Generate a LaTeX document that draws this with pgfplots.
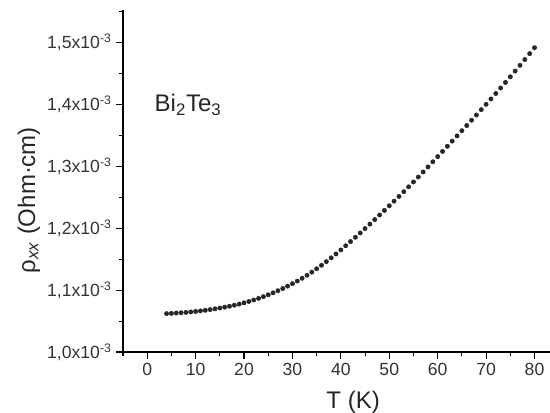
\documentclass[border=0pt]{standalone}
\usepackage{fontspec}
\setmainfont{Liberation Sans}
\usepackage{pgfplots}
\pgfplotsset{compat=1.18}
\begin{document}
\begin{tikzpicture}
\useasboundingbox (-92.25pt,-45.75pt) rectangle (320.25pt,264pt);
\begin{axis}[
  at={(0,0)}, anchor=south west,
  scale only axis,
  width=320.25pt, height=256.5pt,
  xmin=-5, xmax=83.2,
  ymin=1.0, ymax=1.5525,
  axis lines*=left,
  axis line style={line width=0.8pt, -},
  every tick/.style={black, line width=0.8pt},
  tick align=outside,
  major tick length=5pt,
  minor tick length=2.8pt,
  xtick={0,10,...,80},
  minor xtick={-5,5,15,...,75},
  ytick={1.0,1.1,1.2,1.3,1.4,1.5},
  minor ytick={1.05,1.15,1.25,1.35,1.45,1.55},
  yticklabels={{1,0x10\textsuperscript{-3}},{1,1x10\textsuperscript{-3}},{1,2x10\textsuperscript{-3}},{1,3x10\textsuperscript{-3}},{1,4x10\textsuperscript{-3}},{1,5x10\textsuperscript{-3}}},
  /pgf/number format/assume math mode=true,
  tick label style={font=\fontsize{13.2}{15}\selectfont, text=black!80},
  xlabel={T (K)},
  ylabel={ρ\textsubscript{\textit{xx}} (Ohm·cm)},
  xlabel style={at={(axis description cs:0.539,0)}, anchor=base, yshift=-42.4pt, font=\fontsize{18}{20}\selectfont, text=black!85},
  ylabel style={at={(axis description cs:-0.206,0.444)}, anchor=base, rotate=0, font=\fontsize{18}{20}\selectfont, text=black!85},
  clip=false,
]
\addplot[only marks, mark=*, mark size=1.6pt, color=black!85] coordinates {
(4,1.0620) (5,1.0624) (6,1.0629) (7,1.0634) (8,1.0640) (9,1.0647) (10,1.0655)
(11,1.0664) (12,1.0674) (13,1.0685) (14,1.0697) (15,1.0710) (16,1.0724) (17,1.0739)
(18,1.0756) (19,1.0774) (20,1.0794) (21,1.0816) (22,1.0840) (23,1.0866) (24,1.0894)
(25,1.0924) (26,1.0956) (27,1.0990) (28,1.1026) (29,1.1064) (30,1.1104) (31,1.1146)
(32,1.1191) (33,1.1239) (34,1.1290) (35,1.1344) (36,1.1401) (37,1.1460) (38,1.1521)
(39,1.1584) (40,1.1649) (41,1.1716) (42,1.1784) (43,1.1853) (44,1.1923) (45,1.1994)
(46,1.2066) (47,1.2139) (48,1.2213) (49,1.2287) (50,1.2362) (51,1.2437) (52,1.2513)
(53,1.2590) (54,1.2668) (55,1.2747) (56,1.2827) (57,1.2908) (58,1.2990) (59,1.3073)
(60,1.3157) (61,1.3240) (62,1.3323) (63,1.3407) (64,1.3491) (65,1.3575) (66,1.3659)
(67,1.3744) (68,1.3829) (69,1.3915) (70,1.4001) (71,1.4088) (72,1.4176) (73,1.4265)
(74,1.4355) (75,1.4446) (76,1.4538) (77,1.4631) (78,1.4725) (79,1.4820) (80,1.4916)
};
\node[anchor=base west, font=\fontsize{18}{20}\selectfont, text=black!85, inner sep=0pt] at (axis cs:1.5,1.388) {Bi\textsubscript{2}Te\textsubscript{3}};
\end{axis}
\end{tikzpicture}
\end{document}
